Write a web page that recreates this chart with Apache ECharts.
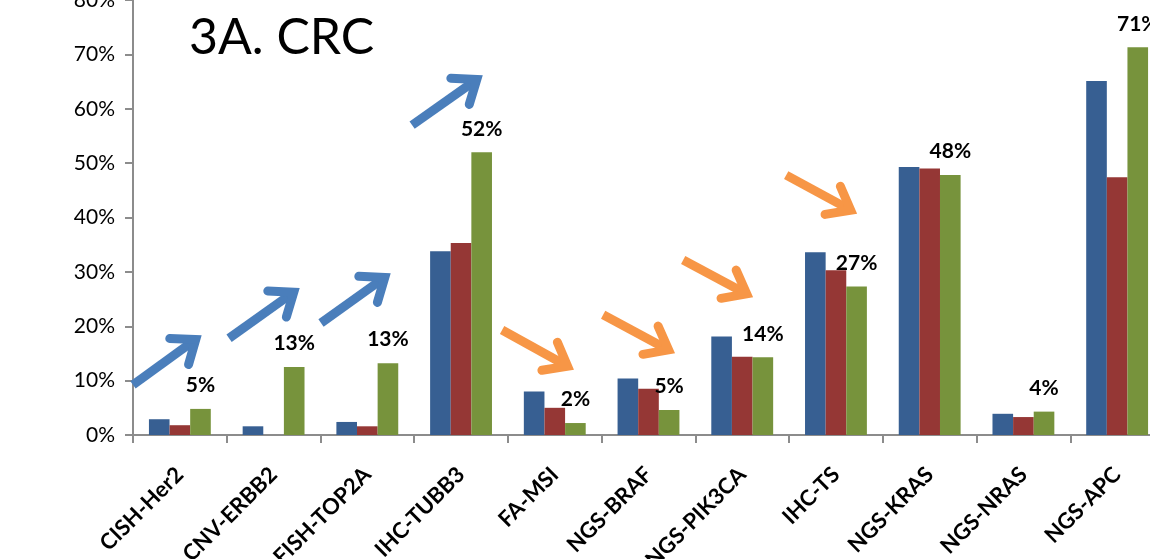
<!DOCTYPE html>
<html>
<head>
<meta charset="utf-8">
<script src="https://cdn.jsdelivr.net/npm/echarts@6/dist/echarts.min.js"></script>
<style>
html,body{margin:0;padding:0;background:#fff;}
#chart{width:1150px;height:559px;}
</style>
</head>
<body>
<div id="chart"></div>
<script>
var categories = ['CISH-Her2','CNV-ERBB2','FISH-TOP2A','IHC-TUBB3','FA-MSI','NGS-BRAF','NGS-PIK3CA','IHC-TS','NGS-KRAS','NGS-NRAS','NGS-APC'];
var seriesBlue  = [2.9, 1.6, 2.4, 33.8, 8.0, 10.4, 18.1, 33.6, 49.3, 3.9, 65.1];
var seriesRed   = [1.8, 0,   1.6, 35.3, 5.0, 8.5, 14.4, 30.3, 49.0, 3.3, 47.4];
var seriesGreen = [4.8, 12.5, 13.2, 52.0, 2.2, 4.6, 14.3, 27.3, 47.8, 4.3, 71.3];
var yTicks = [0,10,20,30,40,50,60,70,80];
var titleText = '3A. CRC';
// annotation arrows in data space: [fromCategoryIndex, fromValue, toCategoryIndex, toValue]
var blueArrows = [[-0.5,9.2,0.204,18.0],[0.525,17.8,1.25,26.7],[1.506,20.6,2.221,29.4],[2.478,57.0,3.203,65.8]];
var orangeArrows = [[3.438,19.3,4.174,12.3],[4.516,22.1,5.252,15.3],[5.37,32.2,6.085,25.6],[6.469,47.8,7.195,41.0]];

var FONT = 'Lato, "Open Sans", sans-serif';
var chart = echarts.init(document.getElementById('chart'));
var option = {
  animation: false,
  backgroundColor: '#ffffff',
  title: {
    text: titleText, left: 184, top: 8,
    textStyle: {fontFamily: FONT, fontSize: 50, fontWeight: 'normal', color: '#000'}
  },
  grid: {left: 133, top: 0, width: 1031, bottom: 124, containLabel: false, outerBoundsMode: 'none'},
  xAxis: {
    type: 'category', data: categories,
    axisLine: {lineStyle: {color: '#8c8c8c', width: 2}},
    axisTick: {show: true, length: 8, lineStyle: {color: '#8c8c8c', width: 2}},
    axisLabel: {rotate: 45, margin: 36, interval: 0, color: '#000', fontFamily: FONT, fontWeight: 'bold', fontSize: 22}
  },
  yAxis: {
    type: 'value', min: yTicks[0], max: yTicks[yTicks.length-1], interval: 10,
    splitLine: {show: false},
    axisLine: {show: true, lineStyle: {color: '#8c8c8c', width: 2}},
    axisTick: {show: true, length: 8, lineStyle: {color: '#8c8c8c', width: 2}},
    axisLabel: {formatter: '{value}%', margin: 18, color: '#000', fontFamily: FONT, fontSize: 21}
  },
  series: [
    {type: 'bar', data: seriesBlue, barGap: '0%', barCategoryGap: '34%', itemStyle: {color: '#375F92'}},
    {type: 'bar', data: seriesRed, itemStyle: {color: '#953735'}},
    {type: 'bar', data: seriesGreen, itemStyle: {color: '#77933C'},
     label: {show: true, position: 'top', distance: 13, color: '#000', fontFamily: FONT, fontWeight: 'bold', fontSize: 21,
             formatter: function(p){ return Math.round(p.value) + '%'; }}}
  ]
};
chart.setOption(option);

// map fractional category positions linearly between integer category centres
function toPx(ci, v) {
  var a = chart.convertToPixel({gridIndex: 0}, [0, v]);
  var b = chart.convertToPixel({gridIndex: 0}, [1, v]);
  return [a[0] + (b[0] - a[0]) * ci, a[1]];
}
function arrowGraphics(list, color) {
  var out = [];
  list.forEach(function(a) {
    var p0 = toPx(a[0], a[1]);
    var p1 = toPx(a[2], a[3]);
    var dx = p1[0]-p0[0], dy = p1[1]-p0[1];
    var L = Math.sqrt(dx*dx+dy*dy), ux = dx/L, uy = dy/L;
    var tip = [p1[0]-ux*4, p1[1]-uy*4];
    var wing = 26, ang = 38*Math.PI/180;
    var bx = -ux, by = -uy;
    var w1 = [tip[0] + wing*(bx*Math.cos(ang) - by*Math.sin(ang)), tip[1] + wing*(bx*Math.sin(ang) + by*Math.cos(ang))];
    var w2 = [tip[0] + wing*(bx*Math.cos(-ang) - by*Math.sin(-ang)), tip[1] + wing*(bx*Math.sin(-ang) + by*Math.cos(-ang))];
    out.push({type: 'polyline', z: 100, shape: {points: [p0, tip]}, style: {stroke: color, lineWidth: 9, lineCap: 'butt', fill: null}});
    out.push({type: 'polyline', z: 100, shape: {points: [w1, tip, w2]}, style: {stroke: color, lineWidth: 9, lineCap: 'round', lineJoin: 'miter', fill: null}});
  });
  return out;
}
chart.setOption({graphic: arrowGraphics(blueArrows, '#4A7EBB').concat(arrowGraphics(orangeArrows, '#F79646'))});
</script>
</body>
</html>
